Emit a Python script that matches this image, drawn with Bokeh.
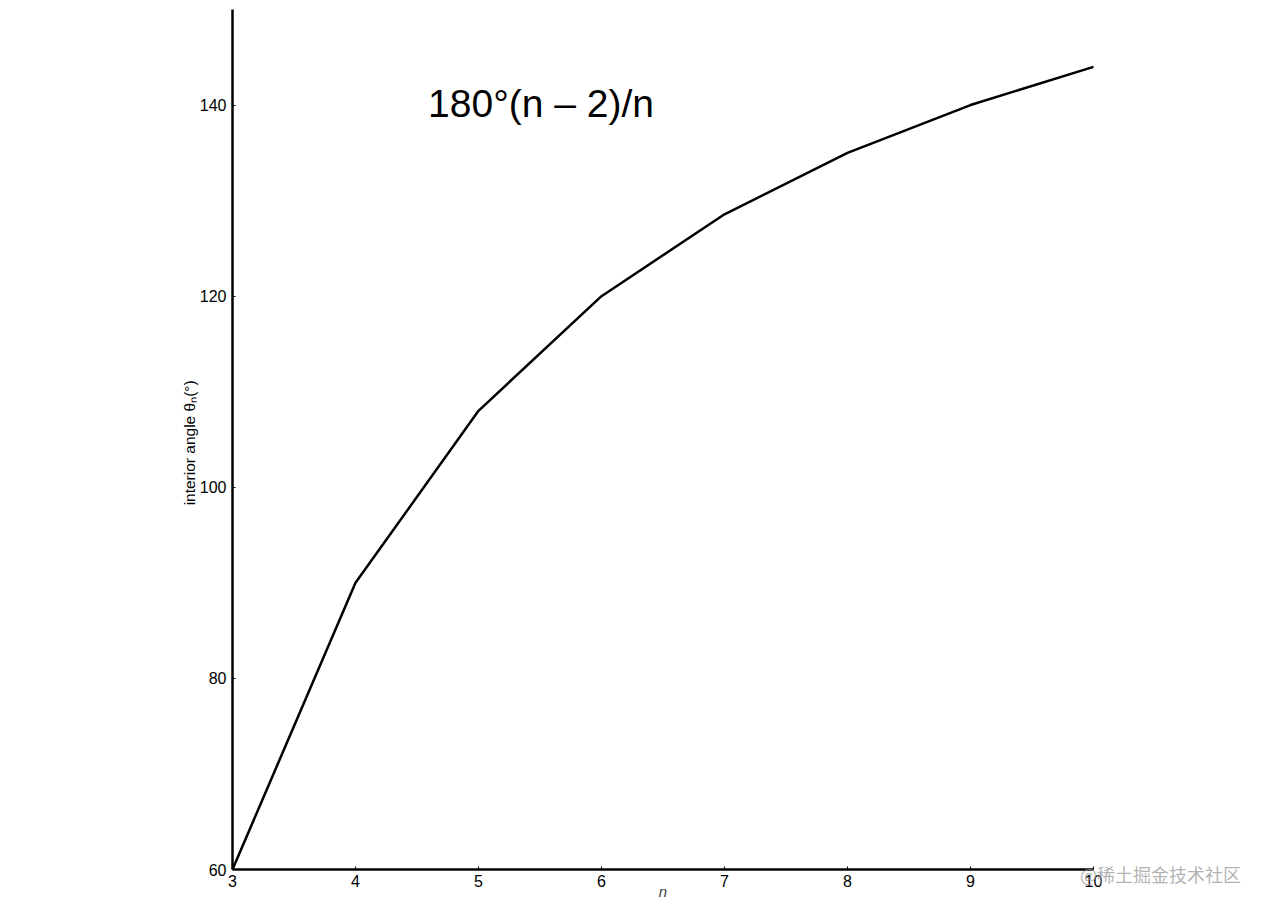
import math
from bokeh.plotting import figure
from bokeh.models import Label, Range1d, FixedTicker
from bokeh.embed import file_html
from bokeh.resources import INLINE

n_sides = [3, 4, 5, 6, 7, 8, 9, 10]
interior_angle = [60.0, 90.0, 108.0, 120.0, 128.57, 135.0, 140.0, 144.0]
x_ticks = [3, 4, 5, 6, 7, 8, 9, 10]
y_ticks = [60, 80, 100, 120, 140]
title_text = "180°(n – 2)/n"
x_label = "n"
y_label = "interior angle θₙ(°)"
watermark = "@稀土掘金技术社区"

FONT = "Liberation Sans"

# The axes span n = 3..10 and angle 60..150 over an 861 x 860 px box whose
# top-left corner is at (232, 9).  The (invisible) frame covers the whole
# canvas so that tick labels, axis titles and the watermark are not clipped.
X0, X1, Y0, Y1 = 3, 10, 60, 150
AX_L, AX_T, AX_W, AX_H = 232, 9, 861, 860
CW, CH = 1250, 900
ux = (X1 - X0) / AX_W
uy = (Y1 - Y0) / AX_H
x_start = X0 - AX_L * ux
x_end = X0 + (CW - AX_L) * ux
y_end = Y1 + AX_T * uy
y_start = Y0 - (CH - AX_T - AX_H) * uy

p = figure(frame_width=CW, frame_height=CH, output_backend="svg", toolbar_location=None,
           x_range=Range1d(x_start, x_end), y_range=Range1d(y_start, y_end),
           min_border=0)
p.outline_line_color = None
p.background_fill_color = "white"
p.border_fill_color = "white"
p.grid.visible = False

for ax in (p.xaxis[0], p.yaxis[0]):
    ax.axis_line_width = 2.5
    ax.axis_line_color = "black"
    ax.major_tick_in = 3
    ax.major_tick_out = 0
    ax.major_tick_line_color = "black"
    ax.minor_tick_line_color = None
    ax.major_label_text_font = FONT
    ax.major_label_text_font_size = "16px"
    ax.major_label_text_color = "black"

p.xaxis[0].ticker = FixedTicker(ticks=x_ticks)
p.yaxis[0].ticker = FixedTicker(ticks=y_ticks)
p.xaxis[0].bounds = (X0, X1)
p.yaxis[0].bounds = (Y0, Y1)
p.xaxis[0].fixed_location = Y0
p.yaxis[0].fixed_location = X0
p.xaxis[0].major_label_standoff = 5
p.yaxis[0].major_label_standoff = 6

p.xaxis[0].axis_label = x_label
p.xaxis[0].axis_label_text_font = FONT
p.xaxis[0].axis_label_text_font_style = "italic"
p.xaxis[0].axis_label_text_font_size = "15px"
p.xaxis[0].axis_label_standoff = -7

p.line(n_sides, interior_angle, line_color="black", line_width=2.5)

# y-axis title (rotated), placed just left of the tick labels
p.add_layout(Label(x=X0 - 43 * ux, y=104.65, text=y_label, text_font=FONT,
                   text_font_size="15.5px", text_color="black", angle=math.pi / 2,
                   text_align="center", text_baseline="middle"))

p.add_layout(Label(x=4.59, y=140.2, text=title_text, text_font=FONT,
                   text_font_size="39px", text_color="black",
                   text_baseline="middle", text_align="left"))

p.add_layout(Label(x=9.89, y=59.58, text=watermark,
                   text_font="Noto Sans CJK SC", level="overlay",
                   text_font_size="18px", text_color="#999999", text_alpha=0.75,
                   text_align="left", text_baseline="middle"))

open("out.html", "w").write(file_html(p, INLINE))
